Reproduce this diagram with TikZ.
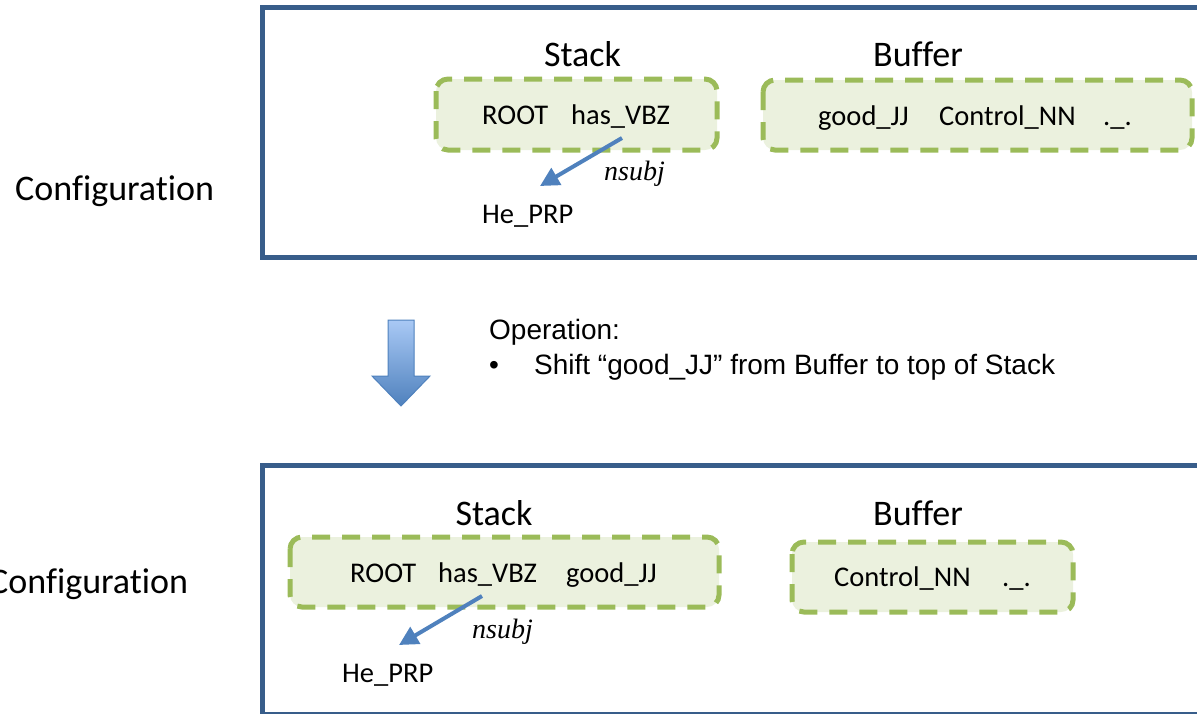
\documentclass[tikz,border=0pt]{standalone}
\usepackage{fontspec}
\setmainfont{Carlito}[Ligatures=NoCommon]
\newfontfamily\opfont{Liberation Sans}
\newfontfamily\relfont{Liberation Serif}
\usetikzlibrary{arrows.meta}

\definecolor{frameblue}{HTML}{385D8A}
\definecolor{dashgreen}{HTML}{9BBB59}
\definecolor{boxfill}{HTML}{EBF1DE}
\definecolor{arcblue}{HTML}{4F81BD}
\definecolor{arrowtop}{HTML}{A9C9F5}

\tikzset{
  frame/.style={draw=frameblue, line width=5pt},
  wordbox/.style={draw=dashgreen, fill=boxfill, line width=5pt,
    dash pattern=on 18pt off 12pt, rounded corners=12pt},
  title/.style={font=\fontsize{36}{42}\selectfont, inner sep=0pt, anchor=base},
  word/.style={font=\fontsize{28.5}{34}\selectfont, inner sep=0pt, anchor=base west},
  rel/.style={font=\relfont\itshape\fontsize{28}{34}\selectfont, inner sep=0pt, anchor=base west},
  opline/.style={font=\opfont\fontsize{28}{34}\selectfont, inner sep=0pt, anchor=base west},
  dep/.style={arcblue, line width=4pt, -{Triangle[length=19pt,width=19pt]}},
}

\begin{document}
\begin{tikzpicture}[x=1pt, y=-1pt]
    \useasboundingbox (0,0) rectangle (1197,713);
    \clip (0,0) rectangle (1197,713);

    % Define coordinates
    \coordinate (DA) at (622,138);
    \coordinate (HA) at (540,186);
    \coordinate (DB) at (482,596);
    \coordinate (HB) at (399,645);

    % Draw outer frames
    \draw[frame] (262,7) rectangle (1215,257);
    \draw[frame] (262,465) rectangle (1215,714);

    % Top configuration
    \node[title, anchor=base west] (confA) at (15,200) {Configuration};
    \node[title] (stackA) at (582.5,66) {Stack};
    \node[title] (bufferA) at (918,66) {Buffer};
    \draw[wordbox] (436,79) rectangle (717,150);
    \draw[wordbox] (763,80) rectangle (1192,150);
    \node[word] (rootA) at (482,124) {ROOT};
    \node[word] (vbzA) at (571,124) {has\_VBZ};
    \node[word] (jjA) at (818,125) {good\_JJ};
    \node[word] (nnA) at (939,125) {Control\_NN};
    \node[word] (dotA) at (1103,125) {.\_.};
    \node[word] (prpA) at (482,223) {He\_PRP};
    \node[rel] (subjA) at (604,180) {nsubj};
    \draw[dep] (DA) -- (HA);

    % Draw shift arrow
    \shade[top color=arrowtop, bottom color=arcblue, draw=arcblue, line width=1pt]
      (388,320) -- (414,320) -- (414,376) -- (430,376) -- (401,406)
      -- (372,376) -- (388,376) -- cycle;

    % Operation text
    \node[opline] (opA) at (489,339) {Operation:};
    \node[opline] (opB) at (489,374) {•};
    \node[opline] (opC) at (534,374) {Shift “good\_JJ” from Buffer to top of Stack};

    % Bottom configuration
    \node[title, anchor=base west] (confB) at (-11,593) {Configuration};
    \node[title] (stackB) at (494,525) {Stack};
    \node[title] (bufferB) at (918,525) {Buffer};
    \draw[wordbox] (290,537) rectangle (719,607);
    \draw[wordbox] (792,542) rectangle (1073,612);
    \node[word] (rootB) at (350,582) {ROOT};
    \node[word] (vbzB) at (438,582) {has\_VBZ};
    \node[word] (jjB) at (566,582) {good\_JJ};
    \node[word] (nnB) at (834,586) {Control\_NN};
    \node[word] (dotB) at (1002,586) {.\_.};
    \node[word] (prpB) at (342,682) {He\_PRP};
    \node[rel] (subjB) at (472,638) {nsubj};
    \draw[dep] (DB) -- (HB);
\end{tikzpicture}
\end{document}
